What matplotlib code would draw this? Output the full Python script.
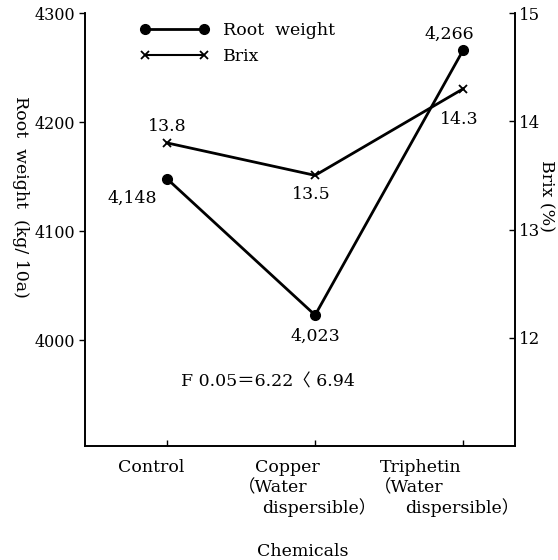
import matplotlib
matplotlib.use("Agg")
import matplotlib.pyplot as plt
from matplotlib.lines import Line2D

plt.rcParams['font.family'] = ['DejaVu Serif', 'Noto Sans CJK JP', 'DejaVu Sans']

categories = ["Control", "Copper", "Triphetin"]
root_weight = [4148, 4023, 4266]
root_labels = ["4,148", "4,023", "4,266"]
brix = [13.8, 13.5, 14.3]
brix_labels = ["13.8", "13.5", "14.3"]
left_ticks = [4000, 4100, 4200, 4300]
right_ticks = [12, 13, 14, 15]

FS = 12.5
TFS = 11.5
W, H = 558, 560
fig = plt.figure(figsize=(W / 100, H / 100), dpi=100)
L, R, T, B = 85, 515, 13, 446
ax = fig.add_axes([L / W, 1 - B / H, (R - L) / W, (B - T) / H])
ax2 = ax.twinx()

x = list(range(len(categories)))
ax.plot(x, root_weight, color='black', lw=2.0, marker='o', ms=7, zorder=3)
ax2.plot(x, brix, color='black', lw=2.0, marker='x', ms=6, mew=1.3, zorder=3)

ax.set_xlim(-0.554, 2.35)
ax.set_ylim(3903, 4300)
ax2.set_ylim(11, 15)

ax.set_yticks(left_ticks)
ax.set_yticklabels([str(v) for v in left_ticks], fontsize=TFS)
ax2.set_yticks(right_ticks)
ax2.set_yticklabels([str(v) for v in right_ticks], fontsize=TFS + 0.5)
ax.tick_params(axis='y', direction='out', length=4, width=1, pad=3)
ax2.tick_params(axis='y', direction='in', length=4, width=1, pad=3)
ax.set_xticks(x)
ax.set_xticklabels([])
ax.tick_params(axis='x', direction='in', length=4, width=1)

for a in (ax, ax2):
    a.spines['top'].set_visible(False)
    for s in ('left', 'right', 'bottom'):
        a.spines[s].set_linewidth(1.2)

# data labels
root_off = [(-25, -14), (0, -15), (-10, 11)]
for xi, v, lab, off in zip(x, root_weight, root_labels, root_off):
    ax.annotate(lab, (xi, v), xytext=off, textcoords='offset points',
                ha='center', va='center', fontsize=FS, zorder=4)
brix_off = [(0, 11.5), (-3, -14), (-3, -22)]
for xi, v, lab, off in zip(x, brix, brix_labels, brix_off):
    ax2.annotate(lab, (xi, v), xytext=off, textcoords='offset points',
                 ha='center', va='center', fontsize=FS, zorder=4)

def px(xp, yp):
    return xp / W, 1 - yp / H

# category labels
fig.text(*px(118, 467), "Control", ha='left', va='center', fontsize=FS)
fig.text(*px(255, 467), "Copper", ha='left', va='center', fontsize=FS)
fig.text(*px(238, 488), "（Water", ha='left', va='center', fontsize=FS)
fig.text(*px(262, 508), "dispersible）", ha='left', va='center', fontsize=FS)
fig.text(*px(380, 467), "Triphetin", ha='left', va='center', fontsize=FS)
fig.text(*px(374, 488), "（Water", ha='left', va='center', fontsize=FS)
fig.text(*px(405, 508), "dispersible）", ha='left', va='center', fontsize=FS)
fig.text(*px(303, 551), "Chemicals", ha='center', va='center', fontsize=FS)

fig.text(*px(20, 197), "Root  weight  (kg/ 10a)", ha='center', va='center',
         rotation=-90, fontsize=FS)
fig.text(*px(546, 196), "Brix (%)", ha='center', va='center',
         rotation=-90, fontsize=FS)

fig.text(*px(268, 382), "F 0.05＝6.22〈 6.94", ha='center', va='center', fontsize=FS)

handles = [
    Line2D([], [], color='black', lw=2.0, marker='o', ms=7),
    Line2D([], [], color='black', lw=1.5, marker='x', ms=6, mew=1.3),
]
leg = ax.legend(handles, ["Root  weight", "Brix"], loc='upper left',
                bbox_to_anchor=(0.09, 1.015), frameon=False, numpoints=2,
                handlelength=4.0, handletextpad=0.8, fontsize=FS,
                labelspacing=0.5)

fig.savefig("out.png", dpi=100)
